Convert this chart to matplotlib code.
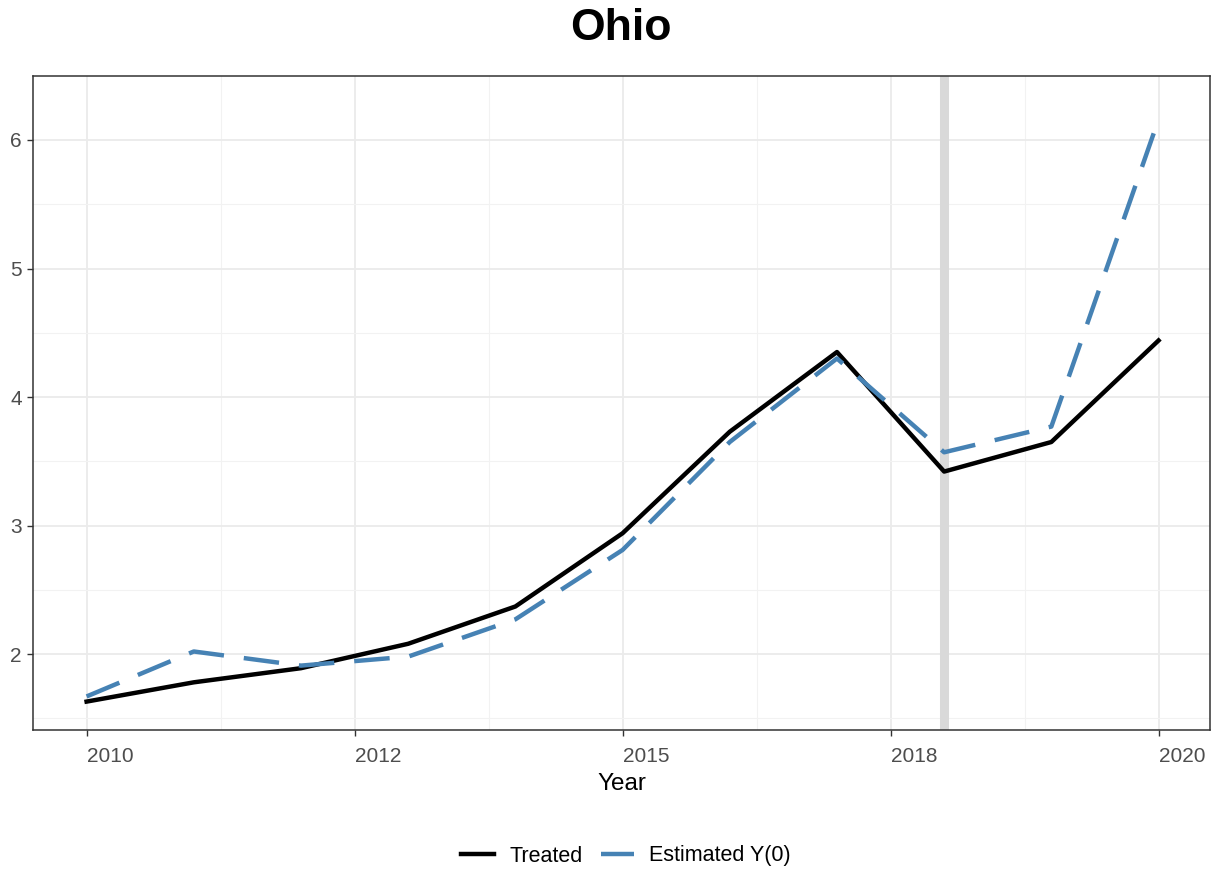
import matplotlib
matplotlib.use("Agg")
import matplotlib.pyplot as plt
from matplotlib.ticker import FixedLocator

plt.rcParams['font.family'] = ['Liberation Sans', 'DejaVu Sans']

# data
years = [2010, 2011, 2012, 2013, 2014, 2015, 2016, 2017, 2018, 2019, 2020]
treated = [1.63, 1.78, 1.89, 2.08, 2.37, 2.94, 3.73, 4.35, 3.42, 3.65, 4.44]
estimated = [1.67, 2.02, 1.91, 1.98, 2.27, 2.81, 3.65, 4.30, 3.57, 3.77, 6.16]
treat_year = 2018
x_breaks = [2010, 2012.5, 2015, 2017.5, 2020]
x_labels = ["2010", "2012", "2015", "2018", "2020"]
y_breaks = [2, 3, 4, 5, 6]

W, H = 1217, 873
fig = plt.figure(figsize=(W / 100, H / 100), dpi=100)
ax = fig.add_axes([33 / W, 1 - 730 / H, (1210 - 33) / W, (730 - 76) / H])

ax.axvline(treat_year, color="#D9D9D9", lw=6.5, zorder=1)
ax.plot(years, treated, color="black", lw=3.2, label="Treated", zorder=3)
ax.plot(years, estimated, color="#4682B4", lw=3.2, dashes=(8, 4.5),
        label="Estimated Y(0)", zorder=4)

ax.set_xlim(2009.5, 2020.48)
ax.set_ylim(1.409, 6.498)

ax.xaxis.set_major_locator(FixedLocator(x_breaks))
ax.set_xticklabels(x_labels, ha="left")
ax.xaxis.set_minor_locator(FixedLocator([2011.25, 2013.75, 2016.25, 2018.75]))
ax.yaxis.set_major_locator(FixedLocator(y_breaks))
ax.yaxis.set_minor_locator(FixedLocator([1.5, 2.5, 3.5, 4.5, 5.5, 6.5]))

ax.grid(which="major", color="#EBEBEB", lw=1.3, zorder=0)
ax.grid(which="minor", color="#F2F2F2", lw=0.8, zorder=0)
ax.set_axisbelow(True)
for s in ax.spines.values():
    s.set_color("#333333")
    s.set_linewidth(1.1)

ax.tick_params(which="major", length=4, width=1, color="#333333",
               labelsize=15, labelcolor="#4D4D4D")
ax.tick_params(axis="x", pad=8)
ax.tick_params(axis="y", pad=4)
ax.tick_params(which="minor", length=0)

ax.set_xlabel("Year", fontsize=17.5, labelpad=5)
fig.text(621 / W, 1 - 40 / H, "Ohio", fontsize=32, fontweight="bold",
         ha="center", va="baseline")

fig.legend(loc="center", bbox_to_anchor=(626 / W, 1 - 856 / H), ncol=2,
           frameon=False, fontsize=15.5, handlelength=1.55, columnspacing=0.85,
           handletextpad=0.7)

fig.savefig("out.png", dpi=100)
